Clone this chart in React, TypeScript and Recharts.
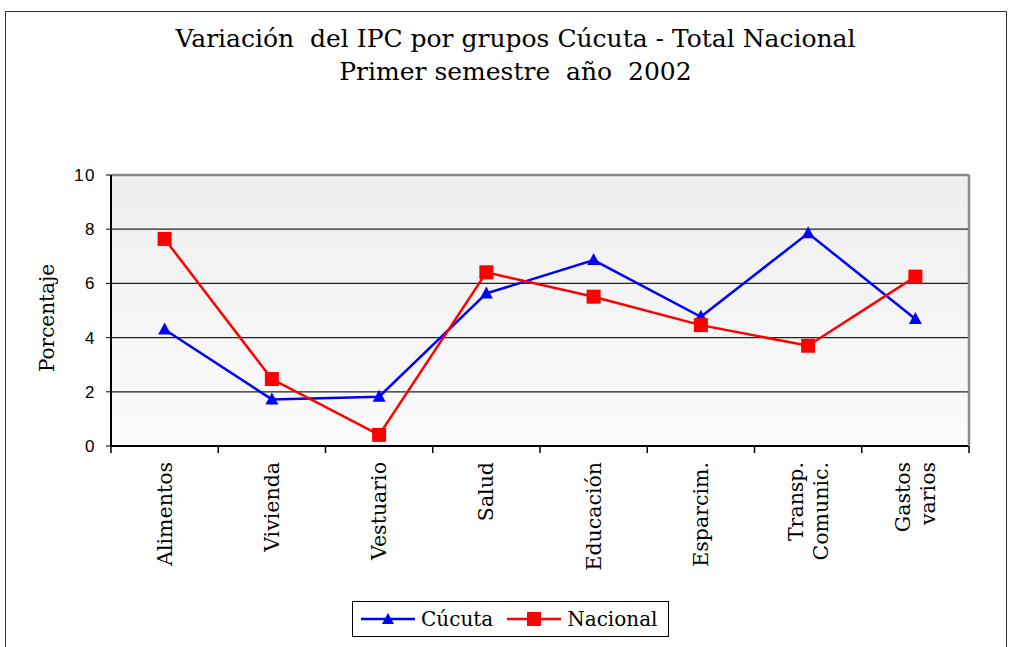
import React from "react";
import {
  LineChart,
  Line,
  XAxis,
  YAxis,
  CartesianGrid,
  ReferenceLine,
} from "recharts";

const categories = [
  "Alimentos",
  "Vivienda",
  "Vestuario",
  "Salud",
  "Educación",
  "Esparcim.",
  "Transp.\nComunic.",
  "Gastos\nvarios",
];
const cucuta = [4.3, 1.72, 1.82, 5.63, 6.86, 4.77, 7.85, 4.69];
const nacional = [7.64, 2.47, 0.41, 6.41, 5.51, 4.46, 3.7, 6.25];
const yTicks = [0, 2, 4, 6, 8, 10];

const data = categories.map((name, i) => ({
  name,
  Cúcuta: cucuta[i],
  Nacional: nacional[i],
}));

const serif = "'DejaVu Serif', serif";
const W = 1009;
const H = 647;
const margin = { top: 175, right: 39, left: 0, bottom: 0 };
const yAxisW = 111;
const xAxisH = 201;
const fallbackBand = (W - yAxisW - margin.right - 1) / categories.length;

function CategoryTick(props: any) {
  const { x, y, payload, index } = props;
  const off = payload && payload.offset ? payload.offset : fallbackBand / 2;
  const lines = String(payload.value).split("\n");
  const lh = 25;
  return (
    <g>
      <line x1={x - off} y1={y} x2={x - off} y2={y + 7} stroke="#000" strokeWidth={1.5} />
      {index === categories.length - 1 && (
        <line x1={x + off} y1={y} x2={x + off} y2={y + 7} stroke="#000" strokeWidth={1.5} />
      )}
      <g transform={`translate(${x},${y + 16}) rotate(-90)`}>
        <text textAnchor="end" fontFamily={serif} fontSize={20.5} fill="#000">
          {lines.map((l, i) => (
            <tspan key={i} x={0} dy={i === 0 ? 7 - ((lines.length - 1) * lh) / 2 : lh}>
              {l}
            </tspan>
          ))}
        </text>
      </g>
    </g>
  );
}

function ValueTick(props: any) {
  const { x, y, payload } = props;
  return (
    <text
      x={x}
      y={y}
      dy={6}
      textAnchor="end"
      fontFamily="'Liberation Sans', Arial, sans-serif"
      fontSize={17}
      letterSpacing={1.5}
      fill="#000"
    >
      {payload.value}
    </text>
  );
}

function TriangleDot(props: any) {
  const { cx, cy } = props;
  if (cx == null || cy == null) return null;
  return (
    <polygon
      points={`${cx},${cy - 7} ${cx - 6.5},${cy + 5} ${cx + 6.5},${cy + 5}`}
      fill="#0000ff"
    />
  );
}

function SquareDot(props: any) {
  const { cx, cy } = props;
  if (cx == null || cy == null) return null;
  return <rect x={cx - 7} y={cy - 7} width={14} height={14} fill="#ff0000" />;
}

export default function App() {
  return (
    <div
      style={{
        position: "absolute",
        left: 0,
        top: 0,
        width: W,
        height: H,
        overflow: "hidden",
        background: "#fff",
      }}
    >
      <div
        style={{
          position: "absolute",
          left: 5,
          top: 11,
          width: 1000,
          height: 650,
          border: "1px solid #333",
          borderBottom: "none",
        }}
      />
      <div
        style={{
          position: "absolute",
          left: 0,
          top: 22,
          width: 1031,
          textAlign: "center",
          fontFamily: serif,
          fontSize: 25,
          lineHeight: "33px",
          whiteSpace: "pre",
          color: "#000",
        }}
      >
        {"Variación  del IPC por grupos Cúcuta - Total Nacional\nPrimer semestre  año  2002"}
      </div>
      <div
        style={{
          position: "absolute",
          left: 47,
          top: 318,
          transform: "translate(-50%, -50%) rotate(-90deg)",
          fontFamily: serif,
          fontSize: 20,
          whiteSpace: "nowrap",
          color: "#000",
        }}
      >
        Porcentaje
      </div>
      <div style={{ position: "absolute", left: 0, top: 0 }}>
        <LineChart width={W} height={H} data={data} margin={margin}>
          <defs>
            <linearGradient id="plotBg" x1="0" y1="0" x2="0" y2="1">
              <stop offset="0%" stopColor="#eeeeee" />
              <stop offset="100%" stopColor="#fbfbfb" />
            </linearGradient>
          </defs>
          <CartesianGrid
            yAxisId="left"
            vertical={false}
            stroke="#222"
            strokeWidth={1.2}
            fill="url(#plotBg)"
            fillOpacity={1}
          />
          <XAxis
            dataKey="name"
            scale="band"
            interval={0}
            height={xAxisH}
            tickLine={false}
            tickSize={0}
            tickMargin={0}
            axisLine={{ stroke: "#000", strokeWidth: 2 }}
            tick={<CategoryTick />}
          />
          <YAxis
            yAxisId="left"
            width={yAxisW}
            domain={[0, 10]}
            ticks={yTicks}
            interval={0}
            tickSize={5}
            tickMargin={10}
            axisLine={{ stroke: "#000", strokeWidth: 2 }}
            tickLine={{ stroke: "#000" }}
            tick={<ValueTick />}
          />
          <YAxis
            yAxisId="right"
            orientation="right"
            width={1}
            domain={[0, 10]}
            tick={false}
            tickLine={false}
            axisLine={{ stroke: "#8a8a8a", strokeWidth: 2.5 }}
          />
          <ReferenceLine yAxisId="left" y={10} stroke="#8a8a8a" strokeWidth={2.5} />
          <Line
            yAxisId="left"
            type="linear"
            dataKey="Cúcuta"
            stroke="#0000ff"
            strokeWidth={2.5}
            dot={<TriangleDot />}
            activeDot={false}
            isAnimationActive={false}
          />
          <Line
            yAxisId="left"
            type="linear"
            dataKey="Nacional"
            stroke="#ff0000"
            strokeWidth={2.5}
            dot={<SquareDot />}
            activeDot={false}
            isAnimationActive={false}
          />
        </LineChart>
      </div>
      <div
        style={{
          position: "absolute",
          left: 352,
          top: 601,
          width: 315,
          height: 34,
          border: "1px solid #000",
          background: "#fff",
          display: "flex",
          alignItems: "center",
          fontFamily: serif,
          fontSize: 20,
          color: "#000",
        }}
      >
        <svg width={60} height={20} style={{ marginLeft: 6 }}>
          <line x1={2} y1={10} x2={56} y2={10} stroke="#0000ff" strokeWidth={2.5} />
          <polygon points="29,4 23,15 35,15" fill="#0000ff" />
        </svg>
        <span style={{ marginLeft: 2 }}>Cúcuta</span>
        <svg width={60} height={20} style={{ marginLeft: 12 }}>
          <line x1={2} y1={10} x2={56} y2={10} stroke="#ff0000" strokeWidth={2.5} />
          <rect x={22} y={3} width={14} height={14} fill="#ff0000" />
        </svg>
        <span style={{ marginLeft: 2 }}>Nacional</span>
      </div>
    </div>
  );
}
